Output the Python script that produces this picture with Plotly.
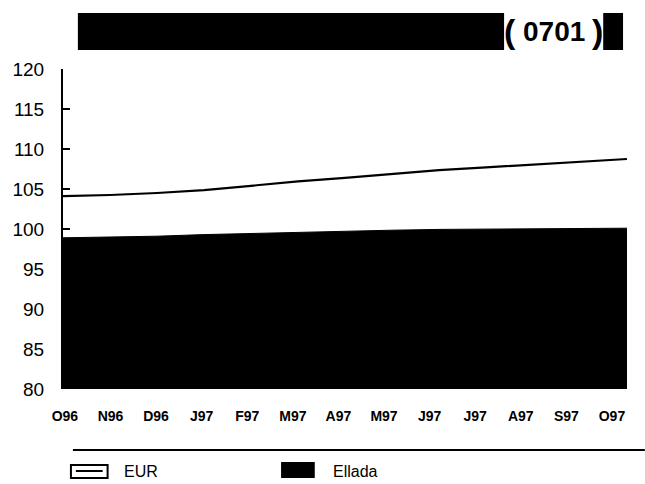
import plotly.graph_objects as go

months = ["O96", "N96", "D96", "J97", "F97", "M97", "A97", "M97", "J97", "J97", "A97", "S97", "O97"]
eur = [104.1, 104.25, 104.5, 104.85, 105.4, 105.95, 106.4, 106.9, 107.35, 107.7, 108.05, 108.4, 108.75]
ellada = [98.9, 99.0, 99.1, 99.3, 99.45, 99.6, 99.75, 99.85, 99.95, 100.0, 100.05, 100.1, 100.1]
code_label = "0701"

W, H = 645, 484
L, R, T, B = 58, 18, 69, 95
PW, PH = W - L - R, H - T - B

def px(x):
    return (x - L) / PW

def py(y):
    return (H - B - y) / PH

x = list(range(len(months)))
# label positions (labels slightly narrower spacing than data in the original)
tick_pos = [0.04 + i * 0.970 for i in x]

fig = go.Figure()
fig.add_trace(go.Scatter(x=x, y=ellada, mode="lines", fill="tozeroy",
                         fillcolor="black", line=dict(color="black", width=1),
                         name="Ellada", showlegend=False))
fig.add_trace(go.Scatter(x=x, y=eur, mode="lines",
                         line=dict(color="black", width=2.2),
                         name="EUR", showlegend=False))

shapes = []
# title bar
shapes.append(dict(type="rect", xref="paper", yref="paper",
                   x0=px(73), x1=px(623), y0=py(50), y1=py(13),
                   fillcolor="black", line=dict(width=0), layer="above"))
shapes.append(dict(type="rect", xref="paper", yref="paper",
                   x0=px(503), x1=px(603), y0=py(50), y1=py(13),
                   fillcolor="white", line=dict(width=0), layer="above"))
# rule
shapes.append(dict(type="line", xref="paper", yref="paper",
                   x0=px(68), x1=px(645), y0=py(450), y1=py(450),
                   line=dict(color="black", width=2)))
# EUR icon
shapes.append(dict(type="rect", xref="paper", yref="paper",
                   x0=px(66), x1=px(103), y0=py(478), y1=py(465),
                   fillcolor="white", line=dict(color="black", width=2)))
shapes.append(dict(type="line", xref="paper", yref="paper",
                   x0=px(71), x1=px(98), y0=py(471), y1=py(471),
                   line=dict(color="black", width=2)))
# Ellada icon
shapes.append(dict(type="rect", xref="paper", yref="paper",
                   x0=px(278), x1=px(312), y0=py(478), y1=py(462),
                   fillcolor="black", line=dict(width=0)))

annotations = [
    dict(text="<b>(</b>", xref="paper", yref="paper", x=px(509), y=py(31),
         xanchor="center", yanchor="middle", showarrow=False,
         font=dict(family="Liberation Sans", size=34, color="black")),
    dict(text="<b>" + code_label + "</b>", xref="paper", yref="paper", x=px(553), y=py(32),
         xanchor="center", yanchor="middle", showarrow=False,
         font=dict(family="Liberation Sans", size=28, color="black")),
    dict(text="<b>)</b>", xref="paper", yref="paper", x=px(597), y=py(31),
         xanchor="center", yanchor="middle", showarrow=False,
         font=dict(family="Liberation Sans", size=34, color="black")),
    dict(text="EUR", xref="paper", yref="paper", x=px(118), y=py(471),
         xanchor="left", yanchor="middle", showarrow=False,
         font=dict(family="Liberation Sans", size=16, color="black")),
    dict(text="Ellada", xref="paper", yref="paper", x=px(328), y=py(471),
         xanchor="left", yanchor="middle", showarrow=False,
         font=dict(family="Liberation Sans", size=16, color="black")),
]

fig.update_layout(
    width=W, height=H,
    margin=dict(l=L, r=R, t=T, b=B, pad=0),
    paper_bgcolor="white", plot_bgcolor="white",
    shapes=shapes, annotations=annotations,
    showlegend=False,
    xaxis=dict(range=[0, 12], tickmode="array", tickvals=tick_pos, ticktext=months,
               showgrid=False, zeroline=False, showline=False, ticks="",
               tickfont=dict(family="Liberation Sans", size=14, color="black", weight="bold"),
               ticklabelstandoff=17),
    yaxis=dict(range=[80, 120], dtick=5, showgrid=False, zeroline=False,
               showline=True, linecolor="black", linewidth=2,
               ticks="inside", ticklen=7, tickwidth=2, tickcolor="black",
               tickfont=dict(family="Liberation Sans", size=19, color="black"),
               ticklabelstandoff=13),
)

fig.write_html("out.html", config={"displayModeBar": False},
               post_script="document.body.style.margin='0';document.body.style.overflow='hidden';")
